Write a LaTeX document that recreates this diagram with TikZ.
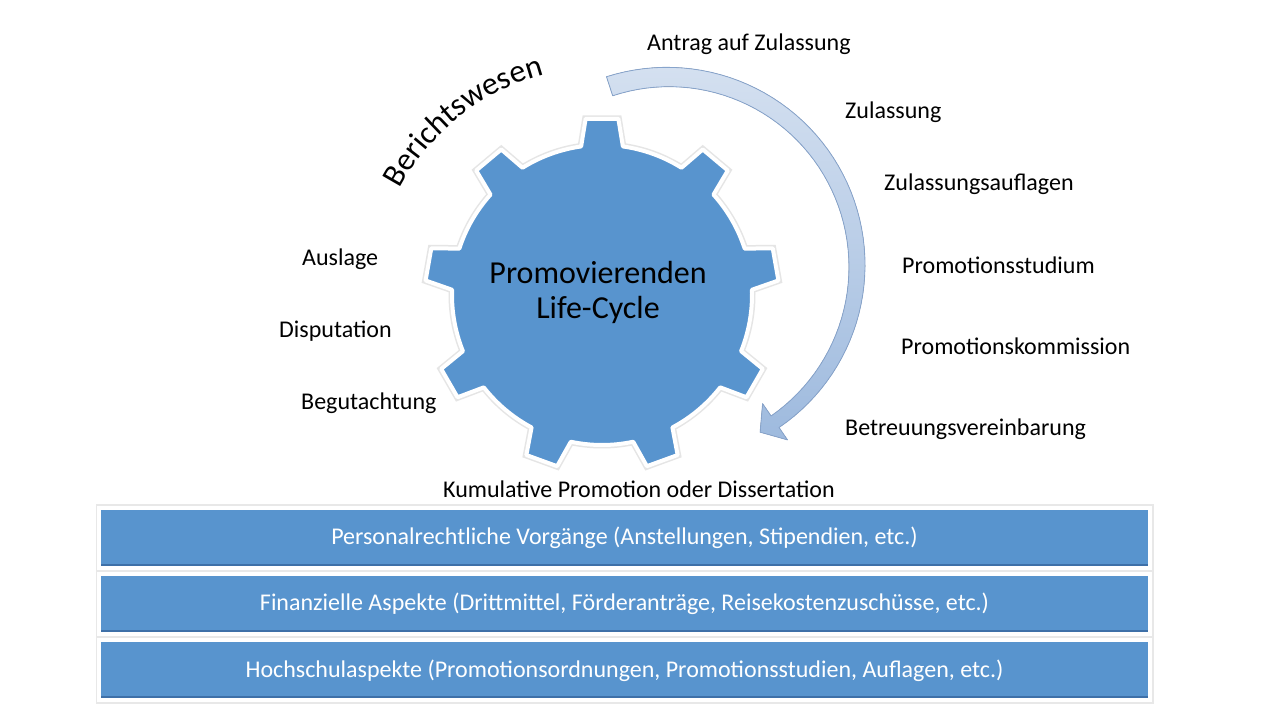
\documentclass[tikz,border=0pt]{standalone}
\usepackage{fontspec}
\setmainfont{Carlito}
\usetikzlibrary{positioning,decorations.text}

\definecolor{gearblue}{RGB}{88,148,206}
\definecolor{gearedge}{RGB}{62,112,168}
\definecolor{arrowtop}{RGB}{212,224,240}
\definecolor{arrowbot}{RGB}{158,186,222}
\definecolor{arrowline}{RGB}{135,164,204}

\begin{document}
\begin{tikzpicture}[x=1pt, y=1pt,
  label/.style={anchor=base west, inner sep=0pt, font=\fontsize{24}{28}\selectfont},
  bar/.style={rectangle, draw=white, line width=4pt, fill=gearblue, minimum width=1051pt,
    minimum height=60pt, text=white, font=\fontsize{24}{28}\selectfont,
    preaction={draw=black!9, line width=7pt},
    path picture={\draw[gearedge, line width=2pt]
      ([yshift=3pt]path picture bounding box.south west) -- ([yshift=3pt]path picture bounding box.south east);}},
  gearbody/.style={fill=gearblue, draw=white, line width=4pt, line join=round,
    preaction={draw=black!10, line width=7pt}},
  arrowbody/.style={top color=arrowtop, bottom color=arrowbot, draw=arrowline, line width=0.8pt, line join=round}]
  \useasboundingbox (0,0) rectangle (1280,720);
  \fill[white] (0,0) rectangle (1280,720);
  % cycle arrow
  \begin{scope}[shift={(668,454)}]
    \filldraw[arrowbody] plot[domain=108:-55.5, samples=60] (\x:{196+3*(\x+55.5)/163.5})
      -- (-55.5:211) -- (-61:190) -- (-55.5:167)
      -- plot[domain=-55.5:108, samples=60] (\x:{182-3*(\x+55.5)/163.5}) -- cycle;
  \end{scope}
  % gear
  \begin{scope}[shift={(602,425)}]
    \filldraw[gearbody] (70:150) \foreach \a in {90,130,...,410} {
      arc[start angle=\a-20, end angle=\a-8, radius=150]
      -- (\a-5.3:177) -- (\a+5.3:177) -- (\a+8:150)
      arc[start angle=\a+8, end angle=\a+20, radius=150]} -- cycle;
    \path[decorate, decoration={text along path, text align=center,
      text={|\fontsize{32}{36}\selectfont|Berichtswesen}}]
      (158.5:228) arc[start angle=158.5, end angle=98.5, radius=228];
  \end{scope}
  \node[align=center, inner sep=0pt, font=\fontsize{32}{35}\selectfont] (gear) at (598,428) {Promovierenden\\Life-Cycle};
  % steps around the gear
  \node[label] (antrag) at (647,669) {Antrag auf Zulassung};
  \node[label] (zul)    at (845,601) {Zulassung};
  \node[label] (aufl)   at (884,529) {Zulassungsauflagen};
  \node[label] (stud)   at (902,446) {Promotionsstudium};
  \node[label] (komm)   at (901,365) {Promotionskommission};
  \node[label] (betr)   at (845,284) {Betreuungsvereinbarung};
  \node[label] (kum)    at (443,222) {Kumulative Promotion oder Dissertation};
  \node[label] (ausl)   at (302,454) {Auslage};
  \node[label] (disp)   at (279,382) {Disputation};
  \node[label] (begut)  at (301,310) {Begutachtung};
  % layers below
  \node[bar] (pers) at (624.5,182)  {Personalrechtliche Vorgänge (Anstellungen, Stipendien, etc.)};
  \node[bar] (fin)  at (624.5,116)  {Finanzielle Aspekte (Drittmittel, Förderanträge, Reisekostenzuschüsse, etc.)};
  \node[bar] (hs)   at (624.5,49.5) {Hochschulaspekte (Promotionsordnungen, Promotionsstudien, Auflagen, etc.)};
\end{tikzpicture}
\end{document}
